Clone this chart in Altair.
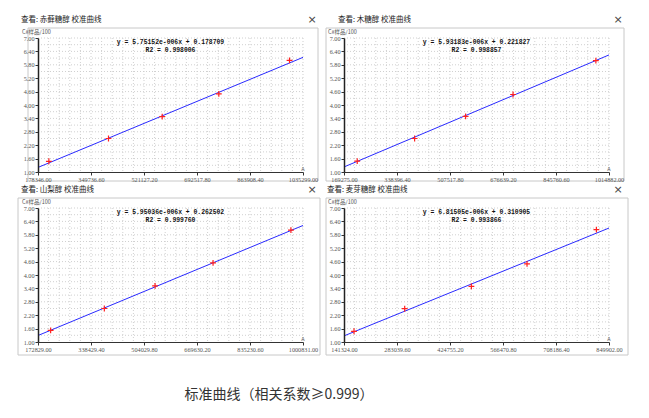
import altair as alt
import pandas as pd

# ---------------- data ----------------
titles = ["查看: 赤藓糖醇 校准曲线", "查看: 木糖醇 校准曲线",
          "查看: 山梨醇 校准曲线", "查看: 麦芽糖醇 校准曲线"]
x_ticks = [
    [178346.00, 349736.60, 521127.20, 692517.80, 863908.40, 1035299.00],
    [169275.00, 338396.40, 507517.80, 676639.20, 845760.60, 1014882.00],
    [172829.00, 338429.40, 504029.80, 669630.20, 835230.60, 1000831.00],
    [141324.00, 283039.60, 424755.20, 566470.80, 708186.40, 849902.00],
]
y_ticks = [1.00, 1.60, 2.20, 2.80, 3.40, 4.00, 4.60, 5.20, 5.80, 6.40, 7.00]
slopes = [5.75152e-6, 5.93183e-6, 5.95036e-6, 6.81505e-6]
intercepts = [0.178709, 0.221827, 0.262502, 0.310905]
eq_lines = ["y = 5.75152e-006x + 0.178709", "y = 5.93183e-006x + 0.221827",
            "y = 5.95036e-006x + 0.262502", "y = 6.81505e-006x + 0.310905"]
r2_lines = ["R2 = 0.998006", "R2 = 0.998857", "R2 = 0.999760", "R2 = 0.993866"]
pt_x = [
    [213500, 406300, 580000, 763100, 991700],
    [211500, 394600, 557300, 708700, 973000],
    [212300, 380100, 538600, 719800, 963100],
    [168100, 303600, 482000, 630700, 816200],
]
pt_y = [
    [1.48, 2.50, 3.48, 4.50, 6.00],
    [1.49, 2.50, 3.49, 4.47, 5.99],
    [1.52, 2.50, 3.51, 4.54, 6.01],
    [1.48, 2.49, 3.49, 4.50, 6.03],
]
y_title = "C#样品/100"
caption = "标准曲线（相关系数≥0.999）"

# ---------------- styles ----------------
W, H = 265, 134
frames = [(-10, 280, -10, 143), (-18, 280, -10, 143), (-20, 282, -10, 147), (-18, 284, -10, 147)]
title_dx = [-17, -6, -17, -17]
CJK = "Noto Sans CJK SC"
GRID = "#d0d0d0"


def vtext(txt, x, y, size, color="#222", font=CJK, align="left", weight="normal"):
    return alt.Chart(pd.DataFrame({"a": [0]})).mark_text(
        text=txt, align=align, baseline="middle", font=font, fontSize=size,
        color=color, fontWeight=weight
    ).encode(x=alt.value(x), y=alt.value(y))


def panel(i):
    xt = x_ticks[i]
    xdom = [xt[0], xt[-1]]
    xs = alt.Scale(domain=xdom, nice=False, zero=False)
    ys = alt.Scale(domain=[1, 7], nice=False, zero=False)
    xa = alt.Axis(values=xt, format=".2f", title=None, grid=False, labelFont="Liberation Serif",
                  labelFontSize=6.2, labelColor="#555", tickSize=3, tickColor="#333",
                  domainColor="#333", domainWidth=1.2, labelPadding=1, labelOverlap=False,
                  labelFlush=False, labelBound=False, zindex=2)
    ya = alt.Axis(values=y_ticks, format=".2f", title=None, grid=False, labelFont="Liberation Serif",
                  labelFontSize=6.2, labelColor="#555", tickSize=3, tickColor="#333",
                  domainColor="#222", domainWidth=1.5, labelPadding=1, labelOverlap=False,
                  labelFlush=False, labelBound=False, zindex=2)
    one = pd.DataFrame({"a": [0]})
    pts = pd.DataFrame({"x": pt_x[i], "y": pt_y[i]})
    fit = pd.DataFrame({"x": xdom, "y": [slopes[i] * v + intercepts[i] for v in xdom]})
    step = (xt[1] - xt[0]) / 5
    vg = pd.DataFrame({"x": [xt[0] + k * step for k in range(1, 26)]})
    hg = pd.DataFrame({"y": [1 + 0.3 * k for k in range(1, 21)]})

    layers = []
    if i == 0:
        layers.append(alt.Chart(one).mark_rect(fill="white").encode(
            x=alt.value(-38), x2=alt.value(W), y=alt.value(-38), y2=alt.value(0)))
    f = frames[i]
    layers.append(alt.Chart(one).mark_rect(fill="white", stroke="#c8c8c8", strokeWidth=1).encode(
        x=alt.value(f[0]), x2=alt.value(f[1]), y=alt.value(f[2]), y2=alt.value(f[3])))
    layers.append(alt.Chart(vg).mark_rule(stroke=GRID, strokeDash=[1, 2], strokeWidth=1).encode(
        x=alt.X("x:Q", scale=xs, axis=xa)))
    layers.append(alt.Chart(hg).mark_rule(stroke=GRID, strokeDash=[1, 2], strokeWidth=1).encode(
        y=alt.Y("y:Q", scale=ys, axis=ya)))
    layers.append(alt.Chart(fit).mark_line(color="#2a2aff", strokeWidth=1).encode(
        x=alt.X("x:Q", scale=xs, axis=xa), y=alt.Y("y:Q", scale=ys, axis=ya)))
    layers.append(alt.Chart(pts).mark_point(
        shape="M-1,0L1,0M0,-1L0,1", filled=False, stroke="#ff2020", strokeWidth=1.2, size=34, opacity=1
    ).encode(
        x=alt.X("x:Q", scale=xs, axis=xa),
        y=alt.Y("y:Q", scale=ys, axis=ya),
    ))
    layers.append(vtext(eq_lines[i], W / 2, 4, 6.4, color="#111", font="Liberation Mono",
                        align="center", weight="bold"))
    layers.append(vtext(r2_lines[i], W / 2, 12, 6.4, color="#111", font="Liberation Mono",
                        align="center", weight="bold"))
    layers.append(vtext(y_title, -16, -6, 5.5, color="#555"))
    layers.append(vtext("A", W, -3 + H, 5, color="#555", font="Liberation Sans", align="center"))
    layers.append(vtext(titles[i], title_dx[i], -18, 7.5, color="#222"))
    layers.append(vtext("×", 274, -18, 11, color="#444", font="DejaVu Sans", align="center"))
    if i == 2:
        layers.append(vtext(caption, 241, 187, 14, color="#333", align="center"))
    return alt.layer(*layers).properties(width=W, height=H)


chart = alt.concat(
    panel(0), panel(1), panel(2), panel(3),
    columns=2, spacing={"row": 36, "column": 41}, bounds="flush"
).properties(
    padding={"left": 0, "top": 0, "right": 0, "bottom": 0}
).configure_view(stroke=None)

chart.save("out.html", embed_options={"renderer": "svg", "actions": False})
